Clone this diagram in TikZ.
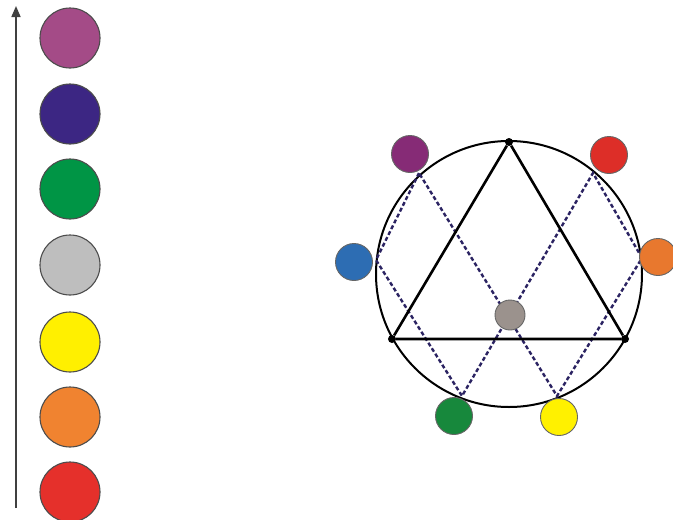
\documentclass[tikz,border=0pt]{standalone}
\usetikzlibrary{arrows.meta}
\definecolor{cPink}{HTML}{A44B87}
\definecolor{cIndigo}{HTML}{3C2683}
\definecolor{cGreen}{HTML}{009545}
\definecolor{cGrayL}{HTML}{BEBEBE}
\definecolor{cYellow}{HTML}{FFF000}
\definecolor{cOrange}{HTML}{F08330}
\definecolor{cRed}{HTML}{E5302B}
\definecolor{dPurple}{HTML}{862B76}
\definecolor{dRed}{HTML}{DD2E28}
\definecolor{dBlue}{HTML}{2D6DB3}
\definecolor{dOrange}{HTML}{E8782E}
\definecolor{dGreen}{HTML}{17883C}
\definecolor{dYellow}{HTML}{FFF100}
\definecolor{dGray}{HTML}{9B928D}
\definecolor{dash}{HTML}{2B2362}
\begin{document}
\begin{tikzpicture}[x=1pt,y=-1pt,
  bigdot/.style={circle,draw=black!70,line width=1.1pt,minimum size=60pt,inner sep=0pt},
  smalldot/.style={circle,draw=black!60,line width=0.9pt,minimum size=37pt,inner sep=0pt},
  vtx/.style={circle,fill=black,minimum size=8pt,inner sep=0pt},
  dashline/.style={draw=dash,line width=2.4pt,dash pattern=on 4pt off 2.5pt}]
\useasboundingbox (0,0) rectangle (673,520);
% left scale
\coordinate (abot) at (16,508);
\coordinate (atop) at (16,6);
\draw[line width=1.7pt,black!75,-{Triangle[length=11pt,width=9pt]}] (abot) -- (atop);
\node[bigdot,fill=cPink] (l1) at (70,38) {};
\node[bigdot,fill=cIndigo] (l2) at (70,114) {};
\node[bigdot,fill=cGreen] (l3) at (70,189) {};
\node[bigdot,fill=cGrayL] (l4) at (70,265) {};
\node[bigdot,fill=cYellow] (l5) at (70,342) {};
\node[bigdot,fill=cOrange] (l6) at (70,417) {};
\node[bigdot,fill=cRed] (l7) at (70,492) {};
% right diagram
\coordinate (O) at (509,274);
\draw[line width=2pt] (O) circle (133pt);
\coordinate (UL) at (419,173);
\coordinate (L) at (376,260);
\coordinate (BL) at (462,396);
\coordinate (BR) at (557,396);
\coordinate (R) at (642,258);
\coordinate (UR) at (593,173);
\draw[dashline] (UL) -- (L) -- (BL) -- (UR) -- (R) -- (BR) -- cycle;
\node[vtx] (T) at (509,142) {};
\node[vtx] (A) at (392,339) {};
\node[vtx] (B) at (625,339) {};
\draw[line width=2.6pt] (T) -- (A) -- (B) -- (T);
\node[smalldot,fill=dGray,minimum size=30pt] (c) at (510,315) {};
\node[smalldot,fill=dPurple] (p) at (410,154) {};
\node[smalldot,fill=dRed] (r) at (609,155) {};
\node[smalldot,fill=dBlue] (b) at (354,262) {};
\node[smalldot,fill=dOrange] (o) at (658,257) {};
\node[smalldot,fill=dGreen] (g) at (454,416) {};
\node[smalldot,fill=dYellow] (y) at (559,417) {};
\end{tikzpicture}
\end{document}
